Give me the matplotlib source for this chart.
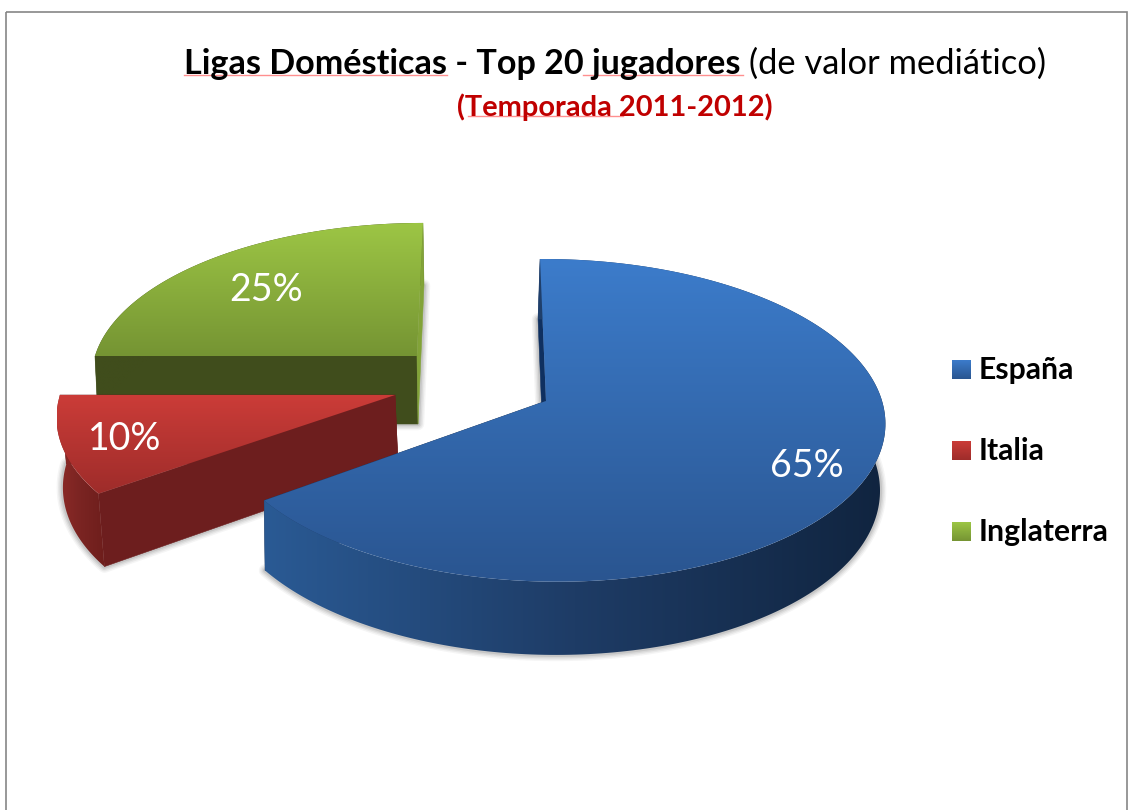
#!/usr/bin/env python3
"""Pie 3D con porciones separadas - ligas domesticas."""
import numpy as np
import matplotlib
matplotlib.use('Agg')
import matplotlib.pyplot as plt
from matplotlib.colors import LinearSegmentedColormap
from matplotlib.patches import Polygon, Rectangle

# datos
ligas = ['España', 'Italia', 'Inglaterra']
valores = [65, 10, 25]

plt.rcParams['font.family'] = ['Lato', 'DejaVu Sans']

# estilo de cada porcion: centro, radios y perspectiva
ESTILO = {
    'España': dict(cx=546, cy=401, rx=332, ry=159, fondo=66, skew=0.042, m=0.012, xb=0.99, off=-2,
                   top=('#3c7ccb', '#2a5590'), lado=('#2a5a94', '#1e3c66', '#10243f'),
                   ini='#0f3060', fin='#1e3c66', fin_sobre=False, lab=(807, 466)),
    'Italia': dict(cx=395, cy=395, rx=335, ry=156, fondo=69, skew=-0.05, m=0, xb=0.99, off=3,
                   top=('#cb3c38', '#9e2c2a'), lado=('#8e2b28', '#7a2422', '#6e1e1c'),
                   ini='#6d1e1e', fin='#6d1e1e', fin_sobre=False, lab=(125, 439)),
    'Inglaterra': dict(cx=417, cy=356, rx=322, ry=149, fondo=68, skew=-0.045, m=0, xb=0.993, off=1,
                       top=('#9dc645', '#759433'), lado=('#404d1c', '#404d1c', '#404d1c'),
                       ini='#404d1c', fin='#82a338', fin_sobre=True, lab=(266, 290)),
}
ORDEN = ['Inglaterra', 'Italia', 'España']
K = 0.12

fig = plt.figure(figsize=(11.28, 8.1), dpi=100)
ax = fig.add_axes([0, 0, 1, 1])
ax.axis('off')


def puntos(e, ang, abajo=False):
    ang = np.radians(np.atleast_1d(ang))
    c, s = np.cos(ang), np.sin(ang)
    p = 1 + K * c - e['m'] * s
    dx = e['rx'] * s / p
    dy = -e['ry'] * c / p
    if abajo:
        x = e['cx'] + e['off'] + dx * e['xb'] + e['skew'] * dy
        y = e['cy'] + 1.04 * dy + e['fondo']
    else:
        x = e['cx'] + dx + e['skew'] * dy
        y = e['cy'] + dy
    return np.column_stack([x, y])


def gradiente(pts, colores, z, horizontal=False):
    pts = np.asarray(pts)
    x0, y0 = pts.min(axis=0)
    x1, y1 = pts.max(axis=0)
    cmap = LinearSegmentedColormap.from_list('g', colores)
    t = np.linspace(0, 1, 256)
    arr = t[None, :] if horizontal else t[:, None]
    im = ax.imshow(arr, cmap=cmap, extent=(x0, x1, y1, y0), origin='upper',
                   aspect='auto', interpolation='bilinear', zorder=z)
    im.set_clip_path(Polygon(pts, closed=True, transform=ax.transData))


# ============================================================
# PORCIONES
# ============================================================
inicios = dict(zip(ligas, np.cumsum([0] + valores[:-1]) * 3.6))
barridos = dict(zip(ligas, np.array(valores) * 3.6))

z = 2
for liga in ORDEN:
    e = ESTILO[liga]
    a0 = inicios[liga]
    a1 = a0 + barridos[liga]
    arco = np.linspace(a0, a1, 240)
    sup = puntos(e, arco)
    inf = puntos(e, arco, abajo=True)
    centro = np.array([[e['cx'], e['cy']]])
    centro_inf = np.array([[e['cx'] + e['off'], e['cy'] + e['fondo']]])

    # sombra difusa alrededor de la base
    base = np.vstack([centro_inf, inf])
    for lw, al in [(9, 0.05), (7, 0.07), (5, 0.09), (3, 0.12)]:
        ax.add_patch(Polygon(base, closed=True, facecolor='none', edgecolor='#444444',
                             linewidth=lw, alpha=al, joinstyle='round', zorder=z))
    z += 1

    # caras radiales
    cara_fin = Polygon(np.vstack([centro, sup[-1:], inf[-1:], centro_inf]), closed=True,
                       facecolor=e['fin'], edgecolor=e['fin'], linewidth=0.4)
    ax.add_patch(Polygon(np.vstack([centro, sup[:1], inf[:1], centro_inf]), closed=True,
                         facecolor=e['ini'], edgecolor=e['ini'], linewidth=0.4, zorder=z))
    z += 1
    cara_fin.set_zorder(z + 1 if e['fin_sobre'] else z)
    ax.add_patch(cara_fin)
    if not e['fin_sobre']:
        z += 1

    # lado exterior
    gradiente(np.vstack([sup, inf[::-1]]), e['lado'], z, horizontal=True)
    z += 2

    # cara superior
    gradiente(np.vstack([centro, sup]), e['top'], z)
    z += 1

# etiquetas de datos
for liga, v in zip(ligas, valores):
    x, y = ESTILO[liga]['lab']
    ax.text(x, y, f'{v}%', color='white', fontsize=27, ha='center', va='center', zorder=50)

# ============================================================
# LEYENDA
# ============================================================
for liga, y in zip(ligas, [360, 441, 522]):
    gradiente([(952, y), (971, y), (971, y + 19), (952, y + 19)], ESTILO[liga]['top'], 50)
    ax.text(979, y + 9.5, liga, fontsize=21.7, fontweight='bold', va='center', color='black', zorder=51)

# ============================================================
# TITULO
# ============================================================
ax.text(184, 74, 'Ligas Domésticas - Top 20 jugadores', fontsize=24.6, fontweight='bold',
        va='baseline', color='black', zorder=51)
ax.text(749, 74, '(de valor mediático)', fontsize=24.8, va='baseline', color='black', zorder=51)
ax.text(615, 116, '(Temporada 2011-2012)', fontsize=20.9, fontweight='bold', ha='center',
        va='baseline', color='#c00000', zorder=51)

# subrayado del corrector
for x0, x1, y in [(184, 447, 74.5), (583, 743, 74.5), (468, 623, 116)]:
    ax.plot([x0, x1], [y, y], color='#ff8f8f', lw=1.0, zorder=50)

# marco
ax.add_patch(Rectangle((6, 12), 1120.5, 820, facecolor='none', edgecolor='#868686', linewidth=1.2, zorder=1))

ax.set_xlim(0, 1128)
ax.set_ylim(810, 0)
fig.savefig('out.png', dpi=100)
